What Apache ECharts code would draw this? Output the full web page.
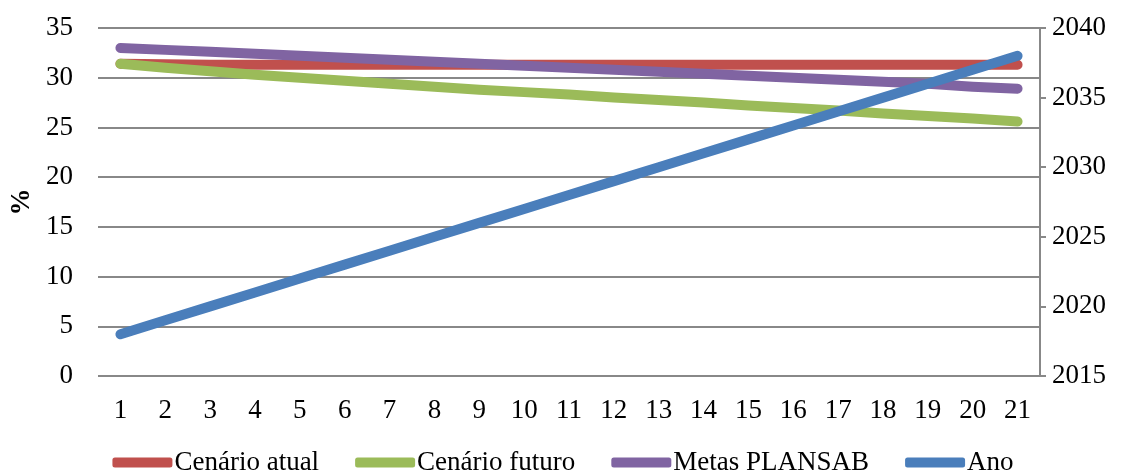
<!DOCTYPE html>
<html><head><meta charset="utf-8">
<script src="https://cdn.jsdelivr.net/npm/echarts@6/dist/echarts.min.js"></script>
<style>html,body{margin:0;padding:0;background:#fff}#c{width:1126px;height:476px}</style>
</head><body><div id="c"></div>
<script>
const categories = ['1','2','3','4','5','6','7','8','9','10','11','12','13','14','15','16','17','18','19','20','21'];
const cenarioAtual = [31.4,31.35,31.3,31.3,31.3,31.3,31.3,31.3,31.3,31.3,31.3,31.3,31.3,31.3,31.3,31.3,31.3,31.3,31.3,31.3,31.3];
const cenarioFuturo = [31.4,31.0,30.65,30.3,30.0,29.7,29.4,29.1,28.8,28.55,28.3,28.0,27.75,27.5,27.2,26.95,26.7,26.4,26.15,25.9,25.6];
const metasPlansab = [33.0,32.8,32.6,32.4,32.2,32.0,31.8,31.6,31.4,31.2,31.0,30.8,30.6,30.4,30.2,30.0,29.8,29.6,29.4,29.1,28.9];
const ano = [2018,2019,2020,2021,2022,2023,2024,2025,2026,2027,2028,2029,2030,2031,2032,2033,2034,2035,2036,2037,2038];
const leftTicks = {min:0, max:35, interval:5};
const rightTicks = {min:2015, max:2040, interval:5};

const font = '"Liberation Serif", serif';
const fs = 27;
const chart = echarts.init(document.getElementById('c'));
function mk(name, data, color, yIdx){
  return {name, type:'line', data, yAxisIndex:yIdx, showSymbol:false, symbol:'none',
    lineStyle:{width:10, color, cap:'round', join:'round'}, itemStyle:{color}, animation:false};
}
chart.setOption({
  animation:false,
  grid:{left:98, right:86, top:28, bottom:100},
  xAxis:{type:'category', data:categories, boundaryGap:true,
    axisLine:{show:false}, axisTick:{show:false},
    axisLabel:{fontFamily:font, fontSize:fs, color:'#000', margin:21}},
  yAxis:[
    {type:'value', min:leftTicks.min, max:leftTicks.max, interval:leftTicks.interval,
     name:'%', nameLocation:'middle', nameGap:62, nameRotate:90,
     nameTextStyle:{fontFamily:font, fontSize:fs, fontWeight:'bold', color:'#000'},
     axisLine:{show:false}, axisTick:{show:false},
     axisLabel:{fontFamily:font, fontSize:fs, color:'#000', margin:25},
     splitLine:{lineStyle:{color:'#888', width:2}}},
    {type:'value', position:'right', min:rightTicks.min, max:rightTicks.max, interval:rightTicks.interval,
     axisLine:{show:true, lineStyle:{color:'#888', width:2}},
     axisTick:{show:true, length:6, lineStyle:{color:'#888', width:2}},
     axisLabel:{fontFamily:font, fontSize:fs, color:'#000', margin:12, formatter:v=>String(v)},
     splitLine:{show:false}}
  ],
  legend:{top:444, left:'center', icon:'roundRect', itemWidth:60, itemHeight:10, itemGap:36,
    textStyle:{fontFamily:font, fontSize:fs, color:'#000', padding:[0,0,0,-3]},
    data:['Cenário atual','Cenário futuro','Metas PLANSAB','Ano']},
  series:[
    mk('Cenário atual', cenarioAtual, '#C0504D', 0),
    mk('Cenário futuro', cenarioFuturo, '#9BBB59', 0),
    mk('Metas PLANSAB', metasPlansab, '#8064A2', 0),
    mk('Ano', ano, '#4A7EBB', 1)
  ]
});
</script></body></html>
